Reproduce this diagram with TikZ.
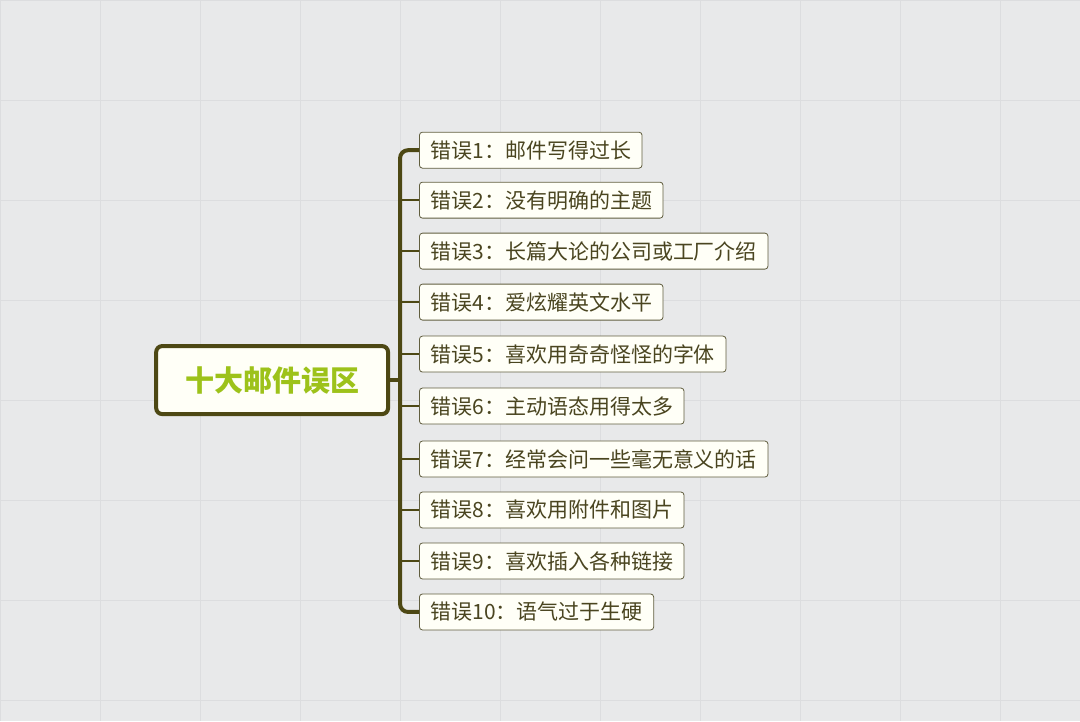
\documentclass[tikz,border=0pt]{standalone}
\usepackage{fontspec}
\newfontfamily\cjk{Noto Sans CJK SC}
\definecolor{bg}{HTML}{E8E9EA}
\definecolor{grid}{HTML}{DCDDDF}
\definecolor{olive}{HTML}{4D4814}
\definecolor{txt}{HTML}{4A4520}
\definecolor{lime}{HTML}{9DC21A}
\begin{document}
\begin{tikzpicture}[x=1pt,y=-1pt,
  item/.style={draw=olive!60!gray,fill=white!97!yellow,rounded corners=3pt,line width=0.8pt,minimum height=36pt,inner xsep=11pt,anchor=west,font=\cjk\fontsize{21}{21}\selectfont,text=txt},
  root/.style={draw=olive,line width=4pt,fill=white!97!yellow,rounded corners=6pt,minimum width=232pt,minimum height=68pt,font=\cjk\bfseries\fontsize{29}{29}\selectfont,text=lime},
  trunk/.style={draw=olive,line width=4pt},
  twig/.style={draw=olive,line width=1.5pt}]
\fill[bg] (0,0) rectangle (1080,721);
\foreach \i in {0,100,...,1080} \draw[grid,line width=0.5pt] (\i,0) -- (\i,721);
\foreach \j in {0,100,...,700} \draw[grid,line width=0.5pt] (0,\j) -- (1080,\j);
\useasboundingbox (0,0) rectangle (1080,721);
\node[root] (r) at (272,380) {十大邮件误区};
\node[item] (b1) at (419,150) {错误1：邮件写得过长};
\node[item] (b2) at (419,200) {错误2：没有明确的主题};
\node[item] (b3) at (419,251) {错误3：长篇大论的公司或工厂介绍};
\node[item] (b4) at (419,302) {错误4：爱炫耀英文水平};
\node[item] (b5) at (419,354) {错误5：喜欢用奇奇怪怪的字体};
\node[item] (b6) at (419,406) {错误6：主动语态用得太多};
\node[item] (b7) at (419,459) {错误7：经常会问一些毫无意义的话};
\node[item] (b8) at (419,510) {错误8：喜欢用附件和图片};
\node[item] (b9) at (419,561) {错误9：喜欢插入各种链接};
\node[item] (b10) at (419,612) {错误10：语气过于生硬};
\coordinate (tt) at (400,150);
\coordinate (tb) at (400,612);
\draw[trunk] (r.east) -- (400,380);
\draw[trunk,rounded corners=8pt] (b1.west) -- (tt) -- (tb) -- (b10.west);
\foreach \k in {2,...,9} \draw[twig] (400,0 |- b\k.west) -- (b\k.west);
\end{tikzpicture}
\end{document}
